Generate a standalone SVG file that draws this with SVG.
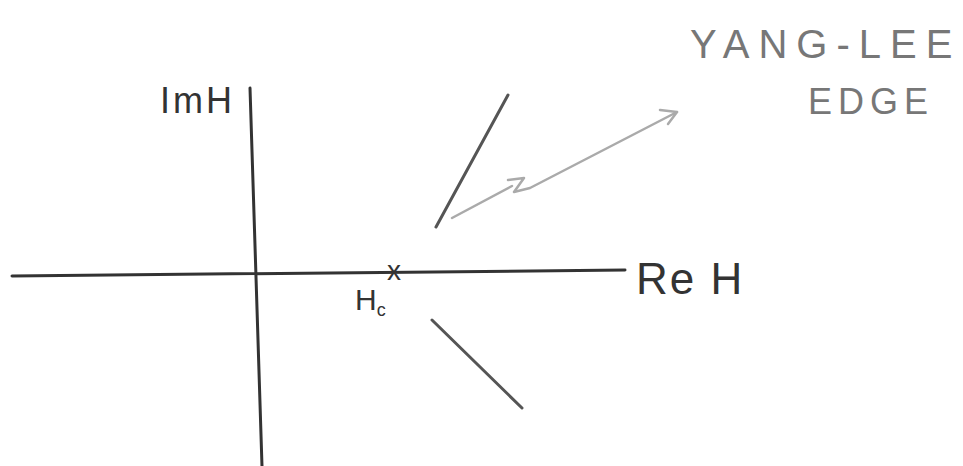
<svg xmlns="http://www.w3.org/2000/svg" width="963" height="466" viewBox="0 0 963 466">
<style>
.ax{stroke:#333;stroke-width:3;fill:none;stroke-linecap:round}
.ln{stroke:#555;stroke-width:3;fill:none;stroke-linecap:round}
.ar{stroke:#aaa;stroke-width:2.5;fill:none;stroke-linecap:round;stroke-linejoin:round}
.t{font-family:"Liberation Sans",Arial,sans-serif;fill:#333}
.tl{font-family:"Liberation Sans",Arial,sans-serif;fill:#777}
</style>
<rect width="963" height="466" fill="#fff"/>
<g id="axes">
<path class="ax" d="M250 88 L262 466"/>
<path class="ax" d="M12 276 L625 270"/>
</g>
<g id="labels">
<text class="t" x="160" y="113" font-size="36" letter-spacing="3">ImH</text>
<text class="t" x="636" y="294" font-size="44" letter-spacing="2">Re H</text>
<text class="t" x="355" y="310" font-size="30">H<tspan font-size="18" dy="6">c</tspan></text>
<text class="t" x="387" y="280" font-size="28">x</text>
<text class="tl" x="690" y="58" font-size="40" letter-spacing="9">YANG-LEE</text>
<text class="tl" x="808" y="114" font-size="36" letter-spacing="6">EDGE</text>
</g>
<g id="cuts">
<path class="ln" d="M436 227 L508 95"/>
<path class="ln" d="M432 320 L522 408"/>
</g>
<g id="connectors">
<path class="ar" d="M452 218 L512 186 M508 180 L524 178 L514 192 L530 188 L677 112"/>
<path class="ar" d="M660 110 L677 112 L668 124"/>
</g>
</svg>
